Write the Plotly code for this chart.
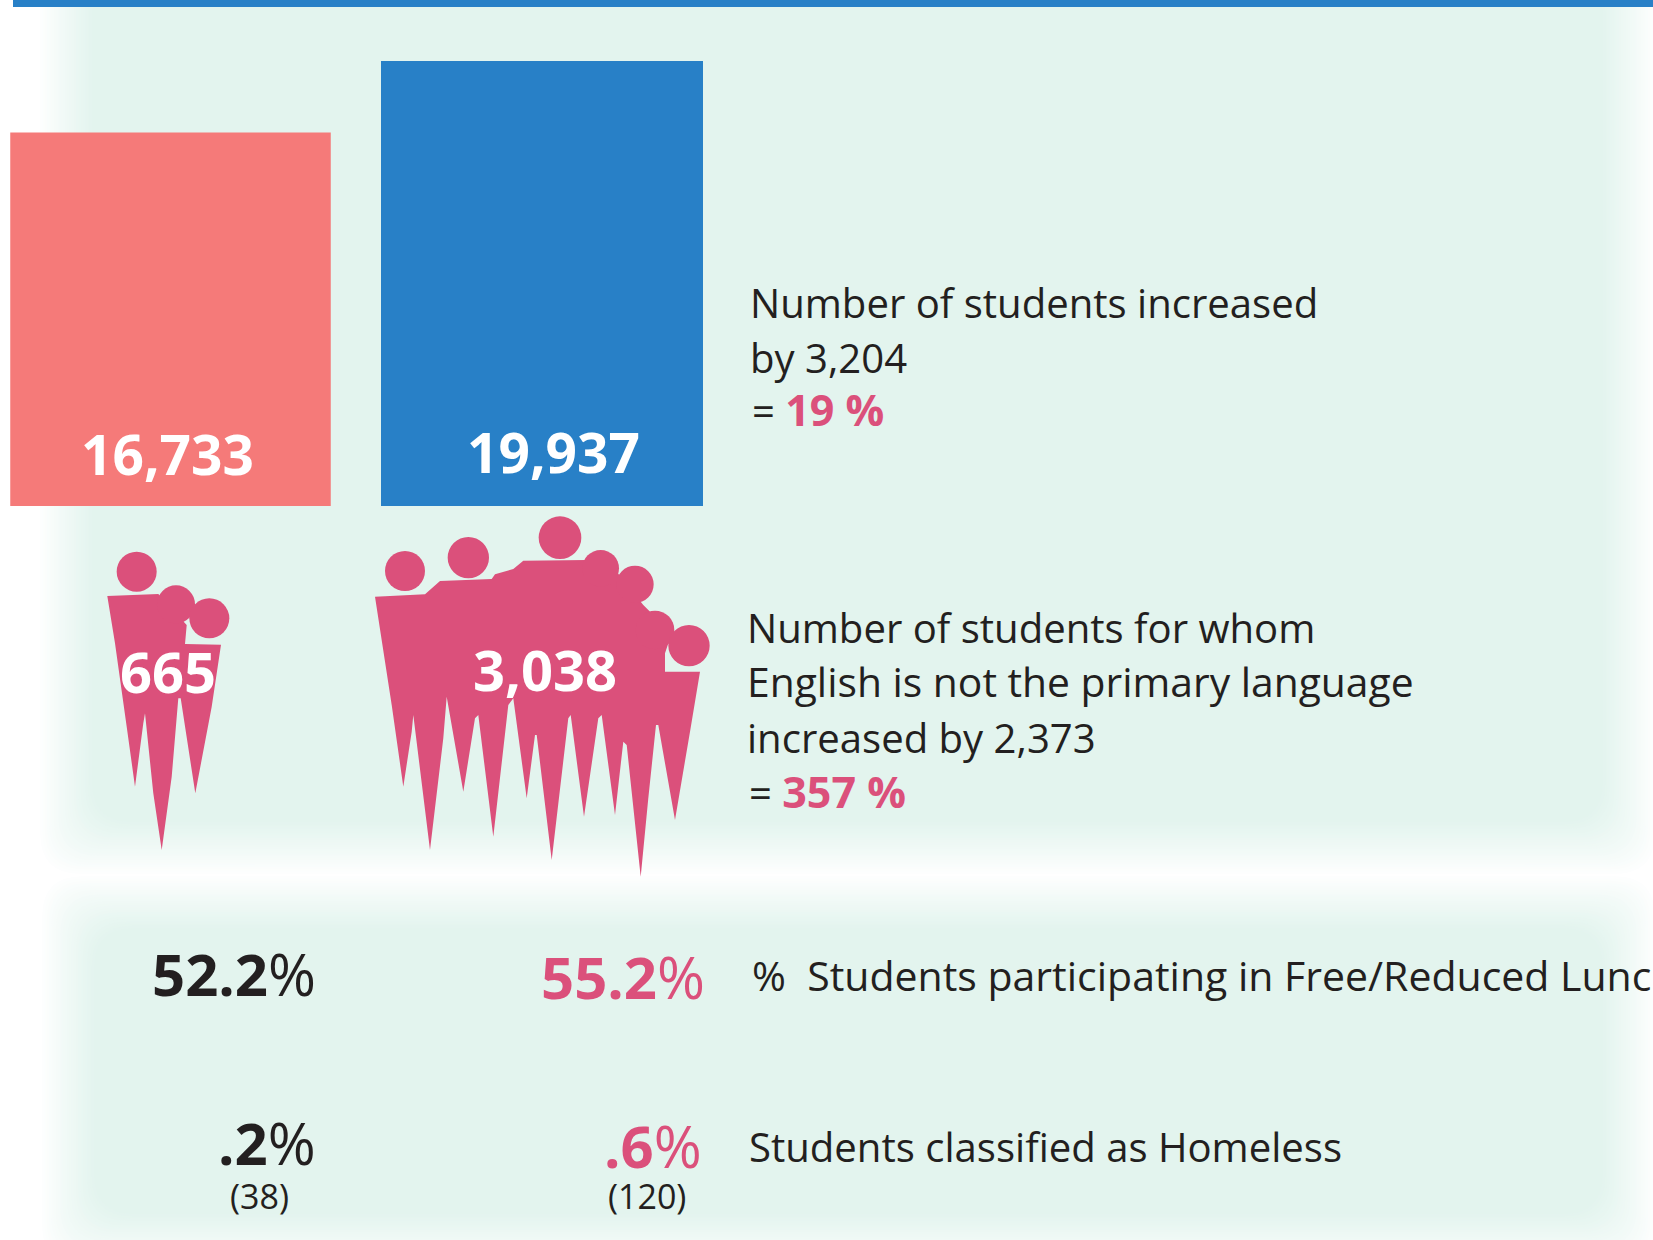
import plotly.graph_objects as go

# ---- data ----
groups = ["Earlier year", "Later year"]
students = [16733, 19937]
student_labels = ["16,733", "19,937"]
non_english = ["665", "3,038"]
lunch = ["52.2", "55.2"]
homeless = [".2", ".6"]
homeless_n = ["(38)", "(120)"]

W, H = 1653, 1240
BLUE, SALMON, ROSE, INK, PANEL = "#2880C7", "#F57A79", "#DB507B", "#231F20", (227, 244, 238)
FONT = "Open Sans"

fig = go.Figure()
# bars through a hidden category axis and value axis
fig.add_trace(go.Bar(x=groups, y=students, xaxis="x2", yaxis="y2",
                     marker=dict(color=[SALMON, BLUE], line=dict(width=0)),
                     width=[320.5 / 371.5, 322 / 371.5], hoverinfo="skip", showlegend=False))
# pixel-space overlay trace keeps the overlay axes alive
fig.add_trace(go.Scatter(x=[0], y=[0], mode="markers", marker=dict(opacity=0), hoverinfo="skip", showlegend=False))

shapes = []

def rrect(x0, y0, x1, y1, r):
    return (f"M{x0+r},{y0} L{x1-r},{y0} Q{x1},{y0} {x1},{y0+r} L{x1},{y1-r} Q{x1},{y1} {x1-r},{y1} "
            f"L{x0+r},{y1} Q{x0},{y1} {x0},{y1-r} L{x0},{y0+r} Q{x0},{y0} {x0+r},{y0} Z")

def soft_panel(x0, y0, x1, y1, blur=54, steps=24):
    for i in range(steps + 1):
        t = i / steps
        s = t ** 0.9
        c = tuple(round(255 + (p - 255) * s) for p in PANEL)
        ins = blur * t
        shapes.append(dict(type="path", path=rrect(x0 + ins, y0 + ins, x1 - ins, y1 - ins, 40),
                           xref="x", yref="y", layer="below", line=dict(width=0),
                           fillcolor=f"rgb{c}"))

soft_panel(38, -80, 1657, 876)
soft_panel(40, 874, 1657, 1268)
shapes.append(dict(type="rect", x0=13, x1=W, y0=0, y1=7, xref="x", yref="y", layer="below",
                   line=dict(width=0), fillcolor=BLUE))

def crowd(ox, oy, outline, heads):
    pts = [(ox + a / 3, oy + b / 3) for a, b in outline]
    shapes.append(dict(type="path", xref="x", yref="y", layer="above", line=dict(width=0), fillcolor=ROSE,
                       path="M" + " L".join(f"{a:.1f},{b:.1f}" for a, b in pts) + " Z"))
    for a, b, r in heads:
        cx, cy, rr = ox + a / 3, oy + b / 3, r / 3
        shapes.append(dict(type="circle", xref="x", yref="y", layer="above", line=dict(width=0), fillcolor=ROSE,
                           x0=cx - rr, x1=cx + rr, y0=cy - rr, y1=cy + rr))

crowd(90, 510,
      [(52, 258), (205, 252), (290, 345), (285, 402), (393, 404), (365, 590), (316, 850), (272, 565), (265, 565),
       (245, 800), (215, 1020), (190, 850), (165, 610), (160, 640), (135, 830), (110, 650), (75, 400)],
      [(140, 185, 60), (258, 283, 57), (358, 325, 60)])
crowd(360, 505,
      [(45, 275), (195, 268), (240, 228), (395, 222), (405, 208), (460, 192), (490, 167), (680, 165), (770, 200),
       (850, 300), (880, 330), (930, 400), (915, 445), (915, 500), (1020, 500), (990, 680), (945, 945), (895, 660),
       (888, 660), (865, 880), (842, 1115), (800, 720), (790, 710), (765, 930), (725, 630), (715, 640), (672, 935),
       (632, 630), (625, 640), (575, 1065), (530, 690), (525, 690), (500, 880), (460, 580), (445, 600), (400, 995),
       (355, 630), (345, 640), (310, 860), (260, 575), (250, 700), (210, 1035), (160, 630), (155, 680), (130, 845),
       (95, 600)],
      [(135, 198, 60), (325, 158, 62), (600, 98, 64), (722, 190, 55), (825, 238, 56), (885, 375, 58), (987, 422, 62)])

ann = []
def label(x, y, text, size=40, color=INK, anchor="left"):
    ann.append(dict(x=x, y=y, xref="x", yref="y", text=text, showarrow=False, xanchor=anchor, yanchor="middle",
                    align=anchor, font=dict(family=FONT, size=size, color=color)))

def hot(s):
    return f'<b><span style="color:{ROSE};font-size:43px">{s}</span></b>'

label(167, 453, f"<b>{student_labels[0]}</b>", 55, "#FFFFFF", "center")
label(553, 451, f"<b>{student_labels[1]}</b>", 55, "#FFFFFF", "center")
label(168, 671, f"<b>{non_english[0]}</b>", 56, "#FFFFFF", "center")
label(545, 669, f"<b>{non_english[1]}</b>", 56, "#FFFFFF", "center")

label(748, 302, "Number of students increased", 40.1)
label(748, 357, "by 3,204", 40.1)
label(750, 409, "= " + hot("19 %"))
label(745, 627, "Number of students for whom", 40.1)
label(745, 681, "English is not the primary language", 40.8)
label(745, 737, "increased by 2,373", 40.1)
label(747, 791, "= " + hot("357 %"))
label(750, 975, "%  Students participating in Free/Reduced Lunch", 41)
label(747, 1146, "Students classified as Homeless", 40.1)

label(318, 973, f"<b>{lunch[0]}</b>%", 58, INK, "right")
label(707, 976, f'<span style="color:{ROSE}"><b>{lunch[1]}</b>%</span>', 58, ROSE, "right")
label(318, 1142, f"<b>{homeless[0]}</b>%", 58, INK, "right")
label(704, 1145, f'<span style="color:{ROSE}"><b>{homeless[1]}</b>%</span>', 58, ROSE, "right")
label(259, 1196, homeless_n[0], 34, INK, "center")
label(647, 1196, homeless_n[1], 34, INK, "center")

fig.update_layout(
    width=W, height=H, autosize=False, margin=dict(l=0, r=0, t=0, b=0),
    paper_bgcolor="white", plot_bgcolor="rgba(0,0,0,0)", showlegend=False,
    shapes=shapes, annotations=ann,
    xaxis=dict(range=[0, W], domain=[0, 1], visible=False, fixedrange=True),
    yaxis=dict(range=[H, 0], domain=[0, 1], visible=False, fixedrange=True),
    xaxis2=dict(type="category", categoryorder="array", categoryarray=groups,
                domain=[0, (542 + 185.75) / W], range=[-170.5 / 371.5, 1.5], visible=False,
                anchor="y2", fixedrange=True),
    yaxis2=dict(domain=[(H - 506) / H, 1], range=[0, 506 * 19937 / 445], visible=False, anchor="x2", fixedrange=True),
)
fig.write_html("out.html", post_script="document.body.style.margin='0';document.body.style.overflow='hidden';",
               config=dict(displayModeBar=False))
